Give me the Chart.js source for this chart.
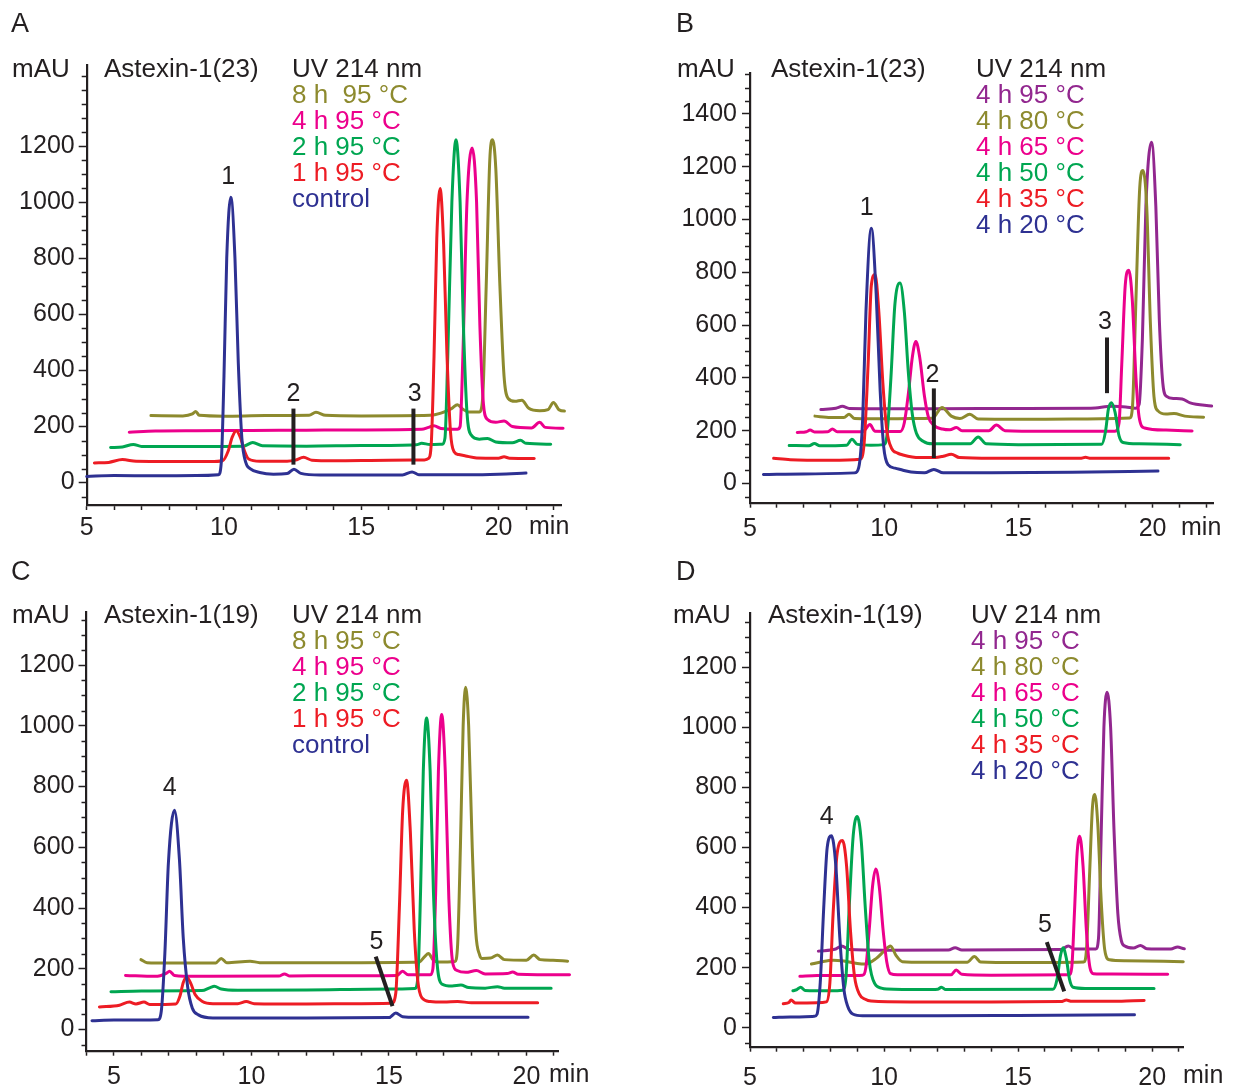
<!DOCTYPE html>
<html><head><meta charset="utf-8">
<script src="https://cdn.jsdelivr.net/npm/chart.js@4.4.0/dist/chart.umd.min.js"></script>
<style>
html,body{margin:0;padding:0;background:#fff;}
body{width:1235px;height:1086px;position:relative;overflow:hidden;}
canvas{position:absolute;}
</style></head><body>
<canvas id="cA" width="617" height="543" style="left:0px;top:0px"></canvas>
<canvas id="cB" width="618" height="543" style="left:617px;top:0px"></canvas>
<canvas id="cC" width="617" height="543" style="left:0px;top:543px"></canvas>
<canvas id="cD" width="618" height="543" style="left:617px;top:543px"></canvas>
<script>
const COL = {blue:'#2e3192', red:'#ed1c24', green:'#00a651', magenta:'#ec008c', olive:'#8d8a2e', purple:'#92278f', ink:'#231f20'};
const FONT = "'Liberation Sans', Arial, Helvetica, sans-serif";

// ---------- Panel A : Astexin-1(23), time series at 95 °C ----------
const aControl = [[5.0,22],[6.0,25],[7.5,24],[9.0,25],[9.8,28],[9.9,70],[10.0,380],[10.1,800],[10.25,1018],[10.4,800],[10.52,430],[10.65,160],[10.8,70],[10.95,50],[11.3,36],[11.8,30],[12.3,32],[12.55,48],[12.8,33],[13.5,27],[16.5,27],[16.85,38],[17.1,28],[19.0,28],[20.0,30],[21.0,34]];
const a1h = [[5.28,70],[5.8,72],[6.3,82],[6.8,76],[8.0,75],[9.5,75],[9.95,78],[10.15,112],[10.3,162],[10.45,184],[10.6,160],[10.75,112],[10.9,84],[11.3,76],[12.3,76],[12.6,80],[12.9,90],[13.2,80],[14.0,78],[16.0,80],[17.3,81],[17.45,86],[17.55,140],[17.65,450],[17.75,870],[17.87,1049],[18.0,850],[18.12,460],[18.25,180],[18.38,110],[18.55,100],[18.8,95],[19.2,88],[20.0,87],[20.2,92],[20.4,87],[21.3,86]];
const a2h = [[5.87,125],[6.3,127],[6.7,136],[7.0,129],[9.0,129],[10.7,130],[11.05,143],[11.4,131],[13.0,130],[15.0,132],[17.0,135],[17.2,140],[17.5,136],[17.95,137],[18.05,160],[18.15,450],[18.3,1000],[18.45,1223],[18.6,1000],[18.72,560],[18.85,250],[19.0,170],[19.3,155],[19.6,157],[19.9,145],[20.5,142],[20.8,151],[21.0,140],[21.9,137]];
const a4h = [[6.55,180],[7.5,184],[9.0,185],[11.0,186],[13.0,187],[15.0,188],[17.2,190],[17.45,197],[17.65,203],[17.9,193],[18.5,190],[18.6,200],[18.7,450],[18.85,1000],[19.04,1194],[19.2,1000],[19.32,560],[19.45,280],[19.6,225],[19.9,215],[20.2,220],[20.5,200],[21.2,195],[21.5,215],[21.7,197],[22.35,194]];
const a8h = [[7.34,239],[8.5,238],[8.85,245],[8.97,254],[9.1,240],[10.0,237],[11.5,239],[13.1,240],[13.35,251],[13.7,240],[15.0,238],[17.5,240],[17.9,248],[18.3,265],[18.5,278],[18.7,262],[18.9,252],[19.3,252],[19.42,300],[19.55,700],[19.68,1150],[19.78,1223],[19.9,1120],[20.05,700],[20.2,380],[20.35,300],[20.6,290],[20.85,294],[21.1,265],[21.5,256],[21.8,260],[22.0,286],[22.2,260],[22.4,255],[22.6,258]];

// ---------- Panel B : Astexin-1(23), 4 h at temperatures ----------
const b20 = [[5.5,34],[7.0,36],[8.9,40],[9.05,60],[9.2,250],[9.32,650],[9.52,967],[9.7,720],[9.85,350],[9.98,140],[10.15,70],[10.4,58],[10.7,50],[11.0,43],[11.5,40],[11.85,53],[12.2,40],[14.0,40],[17.0,42],[20.2,47]];
const b35 = [[5.88,95],[6.5,90],[8.0,88],[9.1,92],[9.25,150],[9.4,450],[9.52,750],[9.66,792],[9.8,650],[9.95,380],[10.1,200],[10.27,134],[10.5,115],[10.7,108],[11.3,98],[11.9,98],[12.2,103],[12.5,111],[12.8,98],[14.0,95],[17.3,95],[17.5,99],[17.7,95],[20.6,95]];
const b50 = [[6.46,144],[7.2,143],[7.4,151],[7.6,143],[8.6,145],[8.8,167],[9.0,148],[9.5,145],[9.98,147],[10.1,180],[10.25,400],[10.4,680],[10.59,759],[10.75,650],[10.9,420],[11.05,260],[11.2,190],[11.45,160],[11.8,150],[13.2,150],[13.5,176],[13.8,150],[15.0,147],[18.1,148],[18.25,200],[18.35,280],[18.47,306],[18.6,270],[18.75,180],[18.9,155],[19.5,150],[21.03,147]];
const b65 = [[6.76,193],[7.1,196],[7.24,202],[7.4,195],[7.9,196],[8.07,206],[8.25,196],[9.2,196],[9.47,223],[9.65,198],[10.6,197],[10.75,230],[10.9,340],[11.05,480],[11.18,538],[11.32,480],[11.5,330],[11.65,250],[11.85,220],[12.17,206],[12.45,203],[12.69,212],[12.9,200],[13.9,200],[14.18,221],[14.5,200],[16.0,198],[18.6,198],[18.75,230],[18.85,450],[18.98,750],[19.11,808],[19.24,700],[19.38,400],[19.5,250],[19.7,210],[20.5,202],[21.47,199]];
const b80 = [[7.42,255],[8.0,250],[8.5,250],[8.69,262],[8.9,246],[9.5,245],[10.0,245],[11.0,246],[11.8,247],[12.15,288],[12.5,255],[12.82,246],[13.19,262],[13.5,244],[15.0,243],[17.0,244],[19.15,248],[19.25,290],[19.38,700],[19.52,1120],[19.64,1186],[19.78,1050],[19.92,600],[20.05,330],[20.2,275],[20.5,263],[20.8,265],[21.2,255],[21.9,251]];
const b95 = [[7.64,280],[8.2,285],[8.44,292],[8.7,284],[10.0,283],[12.0,283],[15.0,284],[17.7,285],[18.5,292],[19.0,290],[19.35,285],[19.5,300],[19.62,550],[19.75,1050],[19.96,1293],[20.12,1050],[20.25,620],[20.38,380],[20.52,330],[20.8,322],[21.1,320],[21.4,305],[22.2,293]];

// ---------- Panel C : Astexin-1(19), time series at 95 °C ----------
const cControl = [[4.2,29],[5.0,31],[6.0,31],[6.6,32],[6.72,60],[6.85,250],[6.98,550],[7.2,722],[7.38,560],[7.52,300],[7.68,140],[7.85,70],[8.07,48],[8.6,38],[10.0,38],[12.0,38],[15.0,39],[15.25,54],[15.5,42],[16.0,40],[20.06,40]];
const c1h = [[4.47,74],[5.2,80],[5.56,90],[5.8,84],[6.09,90],[6.3,82],[7.25,84],[7.4,110],[7.52,155],[7.65,172],[7.8,150],[7.95,115],[8.2,93],[8.6,85],[9.5,85],[9.81,92],[10.1,85],[12.0,84],[14.0,85],[15.1,86],[15.25,120],[15.38,400],[15.5,720],[15.64,821],[15.78,650],[15.92,330],[16.05,160],[16.2,104],[16.5,92],[17.0,90],[17.5,92],[18.0,88],[20.41,88]];
const c2h = [[4.89,124],[6.0,127],[8.2,128],[8.5,138],[8.65,142],[8.9,133],[9.5,129],[12.0,130],[15.0,133],[15.95,135],[16.05,170],[16.15,450],[16.25,850],[16.37,1026],[16.5,850],[16.62,450],[16.75,220],[16.92,150],[17.3,143],[17.62,146],[17.9,138],[18.5,136],[18.95,141],[19.2,136],[20.9,136]];
const c4h = [[5.42,178],[6.5,175],[6.9,185],[7.02,192],[7.2,178],[8.0,175],[11.0,176],[11.2,183],[11.4,176],[13.0,177],[15.3,178],[15.49,192],[15.7,180],[16.5,180],[16.6,200],[16.7,450],[16.8,850],[16.92,1037],[17.05,850],[17.18,430],[17.32,220],[17.48,194],[17.8,188],[18.18,194],[18.5,183],[19.3,184],[19.5,189],[19.7,182],[21.57,180]];
const c8h = [[5.98,230],[6.2,220],[7.0,219],[8.7,219],[8.9,234],[9.1,220],[9.95,225],[10.3,220],[14.0,220],[16.1,222],[16.3,240],[16.44,250],[16.6,230],[16.8,222],[17.4,224],[17.5,280],[17.6,600],[17.7,1000],[17.79,1127],[17.9,1000],[18.03,600],[18.16,320],[18.3,245],[18.39,234],[18.7,235],[18.95,245],[19.2,230],[20.0,228],[20.27,245],[20.5,230],[20.97,228],[21.5,225],[22.08,222]];

// ---------- Panel D : Astexin-1(19), 4 h at temperatures ----------
const d20 = [[5.87,34],[6.5,36],[7.4,38],[7.5,45],[7.62,150],[7.75,400],[7.88,600],[8.04,639],[8.2,540],[8.35,300],[8.5,130],[8.65,70],[8.85,45],[9.2,40],[12.0,40],[15.0,41],[19.34,43]];
const d35 = [[6.24,80],[6.45,84],[6.53,92],[6.7,82],[7.5,83],[7.85,86],[7.98,150],[8.1,380],[8.25,580],[8.45,623],[8.6,540],[8.75,320],[8.9,170],[9.08,112],[9.3,95],[9.51,89],[11.0,86],[14.0,86],[16.6,87],[16.8,92],[17.0,88],[18.5,88],[19.3,90],[19.7,91]];
const d50 = [[6.6,123],[6.75,127],[6.89,135],[7.05,124],[8.0,123],[8.45,125],[8.58,170],[8.7,400],[8.85,640],[9.0,703],[9.15,620],[9.3,400],[9.45,220],[9.66,146],[9.9,132],[10.1,129],[11.5,127],[12.0,128],[12.14,135],[12.3,127],[16.3,128],[16.45,160],[16.58,240],[16.68,266],[16.8,230],[16.92,160],[17.05,135],[17.5,131],[20.07,131]];
const d65 = [[6.86,171],[7.5,174],[8.5,174],[9.2,175],[9.32,200],[9.45,330],[9.57,470],[9.69,528],[9.82,470],[9.97,320],[10.1,220],[10.24,180],[10.5,176],[12.5,176],[12.69,192],[12.9,178],[14.0,175],[16.9,176],[17.0,200],[17.1,380],[17.2,580],[17.3,637],[17.42,540],[17.55,320],[17.68,200],[17.81,180],[18.5,179],[20.58,178]];
const d80 = [[7.29,212],[7.6,218],[8.1,225],[8.5,222],[9.0,214],[9.3,212],[9.7,230],[10.0,255],[10.24,272],[10.45,240],[10.68,220],[11.5,218],[13.1,218],[13.37,237],[13.6,219],[15.0,217],[17.45,219],[17.55,260],[17.67,520],[17.77,730],[17.86,776],[17.97,680],[18.1,420],[18.23,260],[18.4,226],[19.0,223],[21.16,220]];
const d95 = [[7.55,255],[8.2,262],[8.42,272],[8.7,260],[10.0,258],[12.4,259],[12.65,266],[12.9,259],[16.6,260],[16.87,272],[17.1,262],[17.9,262],[18.0,300],[18.1,650],[18.2,1000],[18.32,1116],[18.45,1000],[18.58,650],[18.72,380],[18.85,290],[18.98,272],[19.3,265],[19.56,274],[19.8,263],[20.7,262],[20.95,269],[21.2,263],[21.53,264]];

// ---------- tick values ----------
const xLabelValues = [5, 10, 15, 20];
const yLabelsA = [0, 200, 400, 600, 800, 1000, 1200];
const yLabelsB = [0, 200, 400, 600, 800, 1000, 1200, 1400];
const yLabelsC = [0, 200, 400, 600, 800, 1000, 1200];
const yLabelsD = [0, 200, 400, 600, 800, 1000, 1200];

// ---------- annotations (data coordinates) ----------
const peakLabelsA = [['1', 10.15, 1090], ['2', 12.53, 316], ['3', 16.95, 316]];
const barsA = [[12.53, 64, 12.53, 264], [16.9, 64, 16.9, 264]];
const peakLabelsB = [['1', 9.35, 1045], ['2', 11.8, 412], ['3', 18.22, 611]];
const barsB = [[11.85, 96, 11.85, 360], [18.3, 342, 18.3, 553]];
const peakLabelsC = [['4', 7.03, 796], ['5', 14.55, 289]];
const barsC = [[14.52, 240, 15.13, 77]];
const peakLabelsD = [['4', 7.86, 701], ['5', 16.0, 341]];
const barsD = [[16.07, 285, 16.72, 121]];

function makeRange(a, b, step){ const out=[]; for(let v=Math.ceil(a/step)*step; v<=b+1e-9; v+=step) out.push(Math.round(v*100)/100); return out; }
function pts(arr){ return arr.map(p => ({x:p[0], y:p[1]})); }

const panelPlugin = {
  id: 'panelDeco',
  afterDatasetsDraw(chart){
    const o = chart.options.plugins.panelDeco;
    const ctx = chart.ctx, xs = chart.scales.x, ys = chart.scales.y;
    ctx.save();
    ctx.strokeStyle = COL.ink; ctx.lineWidth = 1.5;
    const left = chart.chartArea.left;
    makeRange(ys.min, ys.max, 50).forEach(v => {
      if (o.yLabels.includes(v)) return;
      const py = Math.round(ys.getPixelForValue(v)) + 0.5;
      ctx.beginPath(); ctx.moveTo(left - 5, py); ctx.lineTo(left, py); ctx.stroke();
    });
    ctx.lineWidth = 4; ctx.lineCap = 'butt';
    o.bars.forEach(b => {
      ctx.beginPath();
      ctx.moveTo(xs.getPixelForValue(b[0]), ys.getPixelForValue(b[1]));
      ctx.lineTo(xs.getPixelForValue(b[2]), ys.getPixelForValue(b[3]));
      ctx.stroke();
    });
    ctx.fillStyle = COL.ink; ctx.font = '25px ' + FONT; ctx.textAlign = 'center'; ctx.textBaseline = 'middle';
    o.peaks.forEach(p => ctx.fillText(p[0], xs.getPixelForValue(p[1]), ys.getPixelForValue(p[2])));
    ctx.textAlign = 'left';
    o.texts.forEach(t => {
      ctx.font = (t[4] || 26) + 'px ' + FONT;
      ctx.fillStyle = t[3] || COL.ink;
      ctx.fillText(t[0], t[1] - o.ox, t[2] - o.oy);
    });
    ctx.restore();
  }
};

function makePanel(id, ox, oy, W, H, area, xr, yr, yLabels, xPad, yPad, series, peaks, bars, texts){
  const xTicks = makeRange(xr[0], xr[1], 1);
  const yw = area.left - ox, pt = area.top - oy, pr = ox + W - area.right, xh = oy + H - area.bottom;
  new Chart(document.getElementById(id), {
    type: 'line',
    data: { datasets: series.map(s => ({
      data: pts(s[0]), borderColor: s[1], borderWidth: 3, pointRadius: 0, fill: false,
      cubicInterpolationMode: 'monotone', clip: false, borderJoinStyle: 'round', borderCapStyle: 'round'
    })) },
    options: {
      responsive: false, animation: false, devicePixelRatio: 1, events: [],
      layout: { padding: { left: 0, top: pt, right: pr, bottom: 0 } },
      plugins: { legend: { display: false }, tooltip: { enabled: false },
        panelDeco: { ox, oy, yLabels, peaks, bars, texts } },
      scales: {
        x: { type: 'linear', min: xr[0], max: xr[1],
          afterBuildTicks: ax => { ax.ticks = xTicks.map(v => ({ value: v })); },
          afterFit: ax => { ax.height = xh; },
          ticks: { autoSkip: false, maxRotation: 0, padding: xPad, color: COL.ink, font: { family: FONT, size: 25 },
            callback: v => xLabelValues.includes(v) ? String(v) : '' },
          grid: { drawOnChartArea: false, drawTicks: true, tickLength: 5, tickWidth: 1.5, tickColor: COL.ink, color: COL.ink },
          border: { display: true, color: COL.ink, width: 2.2 } },
        y: { type: 'linear', min: yr[0], max: yr[1],
          afterBuildTicks: ax => { ax.ticks = yLabels.map(v => ({ value: v })); },
          afterFit: ax => { ax.width = yw; },
          ticks: { autoSkip: false, padding: yPad, color: COL.ink, font: { family: FONT, size: 25 },
            callback: v => String(v) },
          grid: { drawOnChartArea: false, drawTicks: true, tickLength: 8, tickWidth: 1.5, tickColor: COL.ink, color: COL.ink },
          border: { display: true, color: COL.ink, width: 2.2 } }
      }
    },
    plugins: [panelPlugin]
  });
}

makePanel('cA', 0, 0, 617, 543, {left:86.7, top:65, right:561.7, bottom:505}, [5, 22.3], [-80, 1490], yLabelsA, 3, 4,
  [[aControl, COL.blue], [a1h, COL.red], [a2h, COL.green], [a4h, COL.magenta], [a8h, COL.olive]],
  peakLabelsA, barsA,
  [['A', 11, 25, COL.ink, 27], ['mAU', 12, 70], ['Astexin-1(23)', 104, 70], ['UV 214 nm', 292, 70],
   ['8 h  95 °C', 292, 96, COL.olive], ['4 h 95 °C', 292, 122, COL.magenta], ['2 h 95 °C', 292, 148, COL.green],
   ['1 h 95 °C', 292, 174, COL.red], ['control', 292, 200, COL.blue], ['min', 529, 527, COL.ink, 25]]);

makePanel('cB', 617, 0, 618, 543, {left:750, top:73, right:1213, bottom:502.7}, [5, 22.25], [-73, 1555], yLabelsB, 6, 5,
  [[b20, COL.blue], [b35, COL.red], [b50, COL.green], [b65, COL.magenta], [b80, COL.olive], [b95, COL.purple]],
  peakLabelsB, barsB,
  [['B', 676, 25, COL.ink, 27], ['mAU', 677, 70], ['Astexin-1(23)', 771, 70], ['UV 214 nm', 976, 70],
   ['4 h 95 °C', 976, 96, COL.purple], ['4 h 80 °C', 976, 122, COL.olive], ['4 h 65 °C', 976, 148, COL.magenta],
   ['4 h 50 °C', 976, 174, COL.green], ['4 h 35 °C', 976, 200, COL.red], ['4 h 20 °C', 976, 226, COL.blue], ['min', 1181, 528, COL.ink, 25]]);

makePanel('cC', 0, 543, 617, 543, {left:86.5, top:612, right:558, bottom:1050.7}, [4, 21.15], [-70, 1375], yLabelsC, 6, 4,
  [[cControl, COL.blue], [c1h, COL.red], [c2h, COL.green], [c4h, COL.magenta], [c8h, COL.olive]],
  peakLabelsC, barsC,
  [['C', 11, 573, COL.ink, 27], ['mAU', 12, 616], ['Astexin-1(19)', 104, 616], ['UV 214 nm', 292, 616],
   ['8 h 95 °C', 292, 642, COL.olive], ['4 h 95 °C', 292, 668, COL.magenta], ['2 h 95 °C', 292, 694, COL.green],
   ['1 h 95 °C', 292, 720, COL.red], ['control', 292, 746, COL.blue], ['min', 549, 1075, COL.ink, 25]]);

makePanel('cD', 617, 543, 618, 543, {left:750, top:613, right:1183, bottom:1046.7}, [5, 21.15], [-63, 1380], yLabelsD, 11, 5,
  [[d20, COL.blue], [d35, COL.red], [d50, COL.green], [d65, COL.magenta], [d80, COL.olive], [d95, COL.purple]],
  peakLabelsD, barsD,
  [['D', 676, 573, COL.ink, 27], ['mAU', 673, 616], ['Astexin-1(19)', 768, 616], ['UV 214 nm', 971, 616],
   ['4 h 95 °C', 971, 642, COL.purple], ['4 h 80 °C', 971, 668, COL.olive], ['4 h 65 °C', 971, 694, COL.magenta],
   ['4 h 50 °C', 971, 720, COL.green], ['4 h 35 °C', 971, 746, COL.red], ['4 h 20 °C', 971, 772, COL.blue], ['min', 1183, 1076, COL.ink, 25]]);
</script>
</body></html>
